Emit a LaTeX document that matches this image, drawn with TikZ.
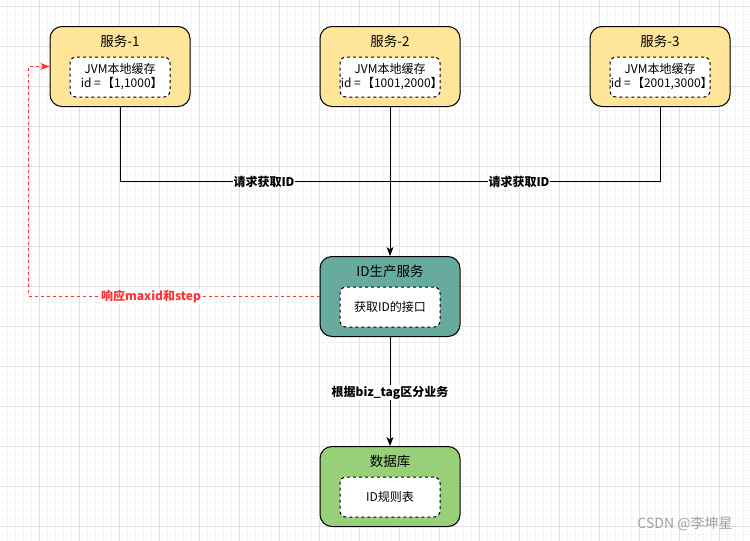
\documentclass[tikz,border=0pt]{standalone}
\usepackage{fontspec}
\setmainfont{Noto Sans CJK SC}
\usetikzlibrary{arrows.meta}
\definecolor{yel}{HTML}{FFE599}
\definecolor{tealc}{HTML}{67AB9F}
\definecolor{grn}{HTML}{97D077}
\definecolor{redc}{HTML}{FF3333}
\definecolor{gmaj}{HTML}{E0E0E0}
\definecolor{gmin}{HTML}{F4F4F4}
\definecolor{wm}{HTML}{A0A0A0}
\newcommand{\lbr}{\kern-1.5pt【}
\newcommand{\rbr}{】\kern-3.5pt}
\tikzset{
  outer/.style={draw=black, line width=1pt, rounded corners=12pt, minimum width=140pt, minimum height=80pt, inner sep=0pt},
  innerbox/.style={draw=black, fill=white, line width=1pt, dash pattern=on 3pt off 3pt, rounded corners=6pt, minimum width=100pt, minimum height=40pt, align=center, font=\fontsize{12}{14}\selectfont, inner sep=0pt},
  ttl/.style={font=\fontsize{13.5}{16}\selectfont, inner sep=0pt},
  elabel/.style={font=\fontsize{12}{14}\selectfont\bfseries, fill=white, inner sep=1pt},
  arr/.style={-{Stealth[length=9pt,width=7pt,inset=2.5pt]}, line width=1pt},
  conn/.style={line width=1pt, draw=black}
}
\begin{document}
\begin{tikzpicture}[x=1pt,y=-1pt]
\useasboundingbox (0,0) rectangle (750,541);
\fill[white] (0,0) rectangle (750,541);
% grid
\foreach \x in {7.5,15.5,...,750} \draw[gmin,line width=1pt] (\x,0) -- (\x,541);
\foreach \y in {6.5,14.5,...,541} \draw[gmin,line width=1pt] (0,\y) -- (750,\y);
\foreach \x in {39.5,79.5,...,750} \draw[gmaj,line width=1pt] (\x,0) -- (\x,541);
\foreach \y in {6.5,46.5,...,541} \draw[gmaj,line width=1pt] (0,\y) -- (750,\y);

% services
\node[outer, fill=yel] (s1) at (120,66.5) {};
\node[ttl] (s1t) at (120,41) {服务-1};
\node[innerbox] (s1i) at (120,77) {JVM本地缓存\\id = \lbr 1,1000\rbr};

\node[outer, fill=yel] (s2) at (390,66.5) {};
\node[ttl] (s2t) at (390,41) {服务-2};
\node[innerbox] (s2i) at (390,77) {JVM本地缓存\\id = \lbr 1001,2000\rbr};

\node[outer, fill=yel] (s3) at (660,66.5) {};
\node[ttl] (s3t) at (660,41) {服务-3};
\node[innerbox] (s3i) at (660,77) {JVM本地缓存\\id = \lbr 2001,3000\rbr};

% id service
\node[outer, fill=tealc] (ids) at (390,296.5) {};
\node[ttl] (idst) at (390,271) {ID生产服务};
\node[innerbox] (idsi) at (390,307) {获取ID的接口};

% database
\node[outer, fill=grn] (db) at (390,486.5) {};
\node[ttl] (dbt) at (390,461) {数据库};
\node[innerbox] (dbi) at (390,497) {ID规则表};

% request lines
\coordinate (j) at (390,181);
\draw[conn] (s1.south) |- (j);
\draw[conn] (s3.south) |- (j);
\draw[conn,arr] (s2.south) -- (ids.north);
\node[elabel] (l1) at (264,181.5) {请求获取ID};
\node[elabel] (l2) at (519,181.5) {请求获取ID};

% response line
\coordinate (rc) at (28.5,296);
\draw[redc, line width=1pt, dash pattern=on 3pt off 3pt, -{Stealth[length=9pt,width=7pt,inset=2.5pt]}] (ids.west |- rc) -- (rc) |- (s1.west);
\node[elabel, text=redc] (l3) at (151,296.5) {响应maxid和step};

% db line
\draw[conn,arr] (ids.south) -- (db.north);
\node[elabel] (l4) at (390,392.5) {根据biz\_tag区分业务};

% watermark
\node[font=\fontsize{14}{16}\selectfont, text=wm, inner sep=0pt] (wmk) at (685,524) {CSDN @李坤星};
\end{tikzpicture}
\end{document}
